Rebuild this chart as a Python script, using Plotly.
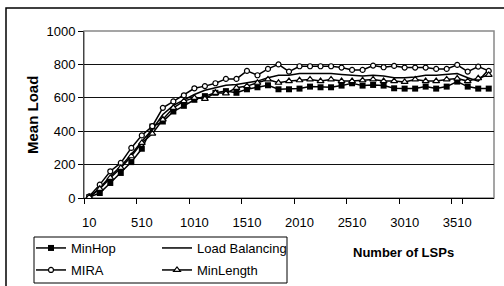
import plotly.graph_objects as go

lsps = [str(v) for v in range(10, 3811, 100)]
tick_labels = ["10", "510", "1010", "1510", "2010", "2510", "3010", "3510"]

minhop = [5, 30, 90, 150, 215, 295, 428, 458, 518, 552, 588, 610, 630, 640, 630,
          651, 663, 675, 651, 651, 655, 667, 663, 663, 673, 687, 673, 677, 673, 657,
          655, 655, 667, 655, 667, 697, 667, 655, 655]
load_bal = [5, 60, 130, 190, 260, 340, 410, 500, 555, 590, 620, 645, 660, 675, 680,
            690, 700, 720, 735, 735, 745, 745, 745, 745, 740, 735, 730, 735, 730, 720,
            720, 725, 735, 735, 740, 745, 720, 700, 770]
mira = [10, 80, 160, 210, 300, 375, 430, 540, 578, 615, 657, 670, 687, 713, 713,
        761, 735, 773, 800, 757, 789, 789, 789, 789, 781, 767, 767, 793, 783, 791,
        781, 781, 781, 773, 773, 797, 757, 787, 761]
minlength = [5, 55, 120, 180, 250, 330, 385, 470, 540, 580, 600, 594, 630, 627, 660,
             670, 690, 710, 690, 700, 705, 710, 700, 710, 700, 700, 705, 710, 700, 700,
             695, 710, 700, 700, 710, 715, 700, 717, 737]

FONT = "Liberation Sans, Arial, sans-serif"

fig = go.Figure()
fig.add_trace(go.Scatter(x=lsps, y=minhop, name="MinHop", mode="lines+markers",
                         line=dict(color="black", width=1.5), legend="legend",
                         marker=dict(symbol="square", size=6, color="black")))
fig.add_trace(go.Scatter(x=lsps, y=load_bal, name="Load Balancing", mode="lines",
                         legend="legend2",
                         line=dict(color="black", width=1.5)))
fig.add_trace(go.Scatter(x=lsps, y=mira, name="MIRA", mode="lines+markers",
                         line=dict(color="black", width=1.5), legend="legend3",
                         marker=dict(symbol="circle", size=5, color="white",
                                     line=dict(color="black", width=1.2))))
fig.add_trace(go.Scatter(x=lsps, y=minlength, name="MinLength", mode="lines+markers",
                         line=dict(color="black", width=1.5), legend="legend4",
                         marker=dict(symbol="triangle-up", size=6, color="white",
                                     line=dict(color="black", width=1.2))))

W, H = 504, 286
L, R, T, B = 84, 10, 31, 88
pw, ph = W - L - R, H - T - B

def px(x):
    return (x - L) / pw

def py(y):
    return (H - B - y) / ph

leg_common = dict(orientation="v", yanchor="top", xanchor="left",
                  bgcolor="rgba(0,0,0,0)", borderwidth=0,
                  font=dict(family=FONT, size=13), traceorder="normal",
                  tracegroupgap=0, itemwidth=30)

fig.update_layout(
    width=W, height=H,
    margin=dict(l=L, r=R, t=T, b=B, autoexpand=False),
    paper_bgcolor="white", plot_bgcolor="white",
    font=dict(family=FONT, size=13, color="black"),
    showlegend=True,
    legend=dict(x=px(31), y=py(233), **leg_common),
    legend2=dict(x=px(157), y=py(233), **leg_common),
    legend3=dict(x=px(31), y=py(255), **leg_common),
    legend4=dict(x=px(157), y=py(255), **leg_common),
    xaxis=dict(type="category", tickmode="array", tickvals=tick_labels, ticktext=tick_labels,
               tickson="boundaries", ticks="outside", ticklen=5, tickcolor="black",
               tickangle=0, range=[-0.5, 38.5],
               showline=True, linecolor="black", linewidth=1, showgrid=False,
               ticklabelstandoff=12, tickfont=dict(size=13), zeroline=False),
    yaxis=dict(range=[0, 1000], dtick=200, ticks="outside", ticklen=5, tickcolor="black",
               showline=True, linecolor="#444", linewidth=1, showgrid=True,
               gridcolor="#111", gridwidth=1, zeroline=False, tickfont=dict(size=13)),
    shapes=[
        dict(type="rect", xref="paper", yref="paper", x0=0, x1=1, y0=0, y1=1,
             line=dict(color="#888", width=1.5), layer="below"),
        dict(type="rect", xref="paper", yref="paper", x0=px(6), x1=px(520),
             y0=py(300), y1=py(8), line=dict(color="black", width=1.5)),
        dict(type="rect", xref="paper", yref="paper", x0=px(34), x1=px(287),
             y0=py(283), y1=py(237), line=dict(color="black", width=1)),
    ],
    annotations=[
        dict(text="<b>Number of LSPs</b>", xref="paper", yref="paper", x=px(403), y=py(252),
             xanchor="center", yanchor="middle", showarrow=False, font=dict(size=13)),
        dict(text="<b>Mean Load</b>", xref="paper", yref="paper", x=px(32), y=py(115),
             xanchor="center", yanchor="middle", showarrow=False, textangle=-90,
             font=dict(size=15)),
    ],
)

fig.write_html("out.html", config={"displayModeBar": False},
               post_script="document.body.style.margin='0';document.body.style.overflow='hidden';")
